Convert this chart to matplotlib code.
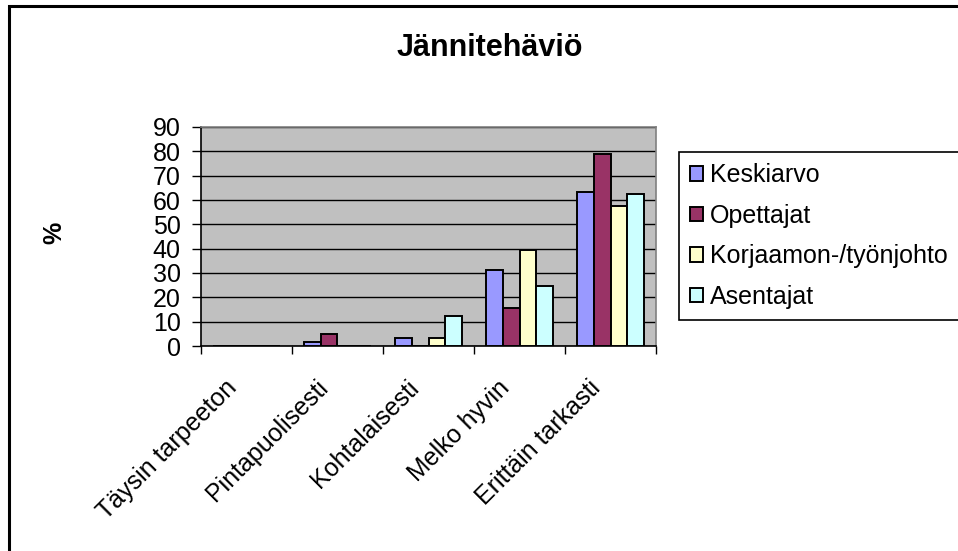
import matplotlib
matplotlib.use("Agg")
import matplotlib.pyplot as plt
from matplotlib.patches import Rectangle
import numpy as np

plt.rcParams['font.family'] = ['Liberation Sans', 'DejaVu Sans']

categories = ["Täysin tarpeeton", "Pintapuolisesti", "Kohtalaisesti", "Melko hyvin", "Erittäin tarkasti"]
series_names = ["Keskiarvo", "Opettajat", "Korjaamon-/työnjohto", "Asentajat"]
keskiarvo = [0, 1.6, 3.3, 31.1, 63.2]
opettajat = [0, 4.9, 0, 15.5, 78.8]
korjaamo = [0, 0, 3.3, 39.5, 57.4]
asentajat = [0, 0, 12.3, 24.7, 62.3]
colors = ["#9999FF", "#993366", "#FFFFCC", "#CCFFFF"]
yticks = list(range(0, 91, 10))

W, H = 958, 551
fig = plt.figure(figsize=(W / 100, H / 100), dpi=100)
fig.patch.set_facecolor("white")

ax = fig.add_axes([201 / W, 1 - 346 / H, (656 - 201) / W, (346 - 127) / H])
ax.set_facecolor("#C0C0C0")

series = [keskiarvo, opettajat, korjaamo, asentajat]
x = np.arange(len(categories)) + 0.5
bw = 0.185
handles = []
for k, (vals, c, name) in enumerate(zip(series, colors, series_names)):
    b = ax.bar(x + (k - 1.5) * bw, vals, width=bw, color=c, edgecolor="black",
               linewidth=1.4, label=name, zorder=3)
    handles.append(b)

ax.set_xlim(0, len(categories))
ax.set_ylim(0, 90)
ax.set_yticks(yticks)
ax.set_yticklabels([str(t) for t in yticks], fontsize=18)
ax.yaxis.grid(True, color="black", linewidth=1.0, zorder=1)
ax.set_axisbelow(True)

ax.set_xticks(np.arange(len(categories) + 1))
ax.set_xticklabels([])
ax.tick_params(axis="x", length=6, width=1, direction="out")
ax.tick_params(axis="y", length=6.5, width=1, direction="out", pad=8)

# rotated category labels, anchored at their top-right corner
for xi, cat in zip(x, categories):
    ax.text(xi - 0.24, -0.135, cat, transform=ax.get_xaxis_transform(), rotation=45,
            ha="right", va="top", rotation_mode="anchor", fontsize=18)

for side in ["top", "right"]:
    ax.spines[side].set_color("#808080")
    ax.spines[side].set_linewidth(1.2)
for side in ["left", "bottom"]:
    ax.spines[side].set_color("black")
    ax.spines[side].set_linewidth(1.2)

fig.text(490 / W, 1 - 48 / H, "Jännitehäviö", ha="center", va="center",
         fontsize=22, fontweight="bold")
fig.text(54 / W, 1 - 233 / H, "%", ha="center", va="center", rotation=90,
         fontsize=18, fontweight="bold")

leg = fig.legend(handles=handles, labels=series_names, loc="upper left",
                 bbox_to_anchor=(679 / W, 1 - 152 / H), fontsize=18,
                 handlelength=0.5, handleheight=0.5, handletextpad=0.3,
                 labelspacing=0.66, borderpad=0.45, borderaxespad=0,
                 frameon=True, fancybox=False,
                 framealpha=1, edgecolor="black")
leg.get_frame().set_linewidth(1.2)

# outer chart frame (left and top edges inside the image)
fig.patches.append(Rectangle((9 / W, -0.1), 2, 1 - 6 / H + 0.1, fill=False,
                             edgecolor="black", linewidth=2.2,
                             transform=fig.transFigure, figure=fig))

fig.savefig("out.png", dpi=100)
